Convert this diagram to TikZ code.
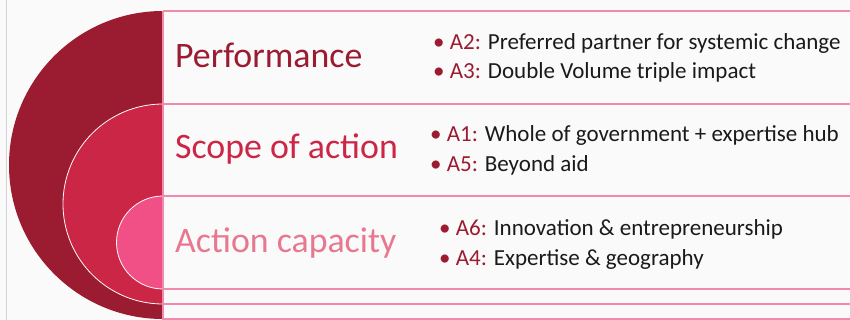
\documentclass[tikz,border=0pt]{standalone}
\usepackage{fontspec}
\setmainfont{Carlito}
\definecolor{deepred}{HTML}{9B1B30}
\definecolor{midred}{HTML}{CC2646}
\definecolor{lightred}{HTML}{F05086}
\definecolor{softpink}{HTML}{E8788F}
\definecolor{rule}{HTML}{F28AAE}
\definecolor{ink}{HTML}{1A1A1A}
\begin{document}
\begin{tikzpicture}[x=1pt,y=-1pt,
  band/.style={draw=rule,line width=1.3pt},
  ring/.style={draw=white!92!pink,line width=0.8pt},
  heading/.style={anchor=base west,inner sep=0pt,font=\fontsize{35.8}{38}\selectfont},
  item/.style={anchor=base west,inner sep=0pt,font=\fontsize{23}{25}\selectfont,text=ink},
  tag/.style={text=deepred}]
\useasboundingbox (0,0) rectangle (850,320);
\fill[white!98!black] (0,0) rectangle (850,320);
\draw[gray!35,line width=0.8pt] (6,0) -- (6,320);

% nested half discs (y axis points down, so angles run 270 -> 90 through the left)
\fill[deepred] (163,11) arc[start angle=270,end angle=90,radius=154] -- cycle;
\filldraw[fill=midred,ring] (163,104) arc[start angle=270,end angle=90,radius=100] -- cycle;
\filldraw[fill=lightred,ring] (163,196) arc[start angle=270,end angle=90,radius=46.5] -- cycle;

% band rules
\coordinate (v0) at (163,11);
\coordinate (v1) at (163,320);
\draw[band] (v0) -- (v1);
\foreach \y in {11,104,196,289,304,319}
  \draw[band] (163,\y) -- (850,\y);

% headings
\node[heading,text=deepred] (perf) at (175,68) {Performance};
\node[heading,text=midred] (scope) at (175,159) {Scope of action};
\node[heading,text=softpink] (cap) at (175,252) {Action capacity};

% bullet items
\node[item] (a2) at (433,50) {\textcolor{deepred}{•} \textcolor{deepred}{A2:} Preferred partner for systemic change};
\node[item] (a3) at (433,79) {\textcolor{deepred}{•} \textcolor{deepred}{A3:} Double Volume triple impact};
\node[item] (a1) at (430,142) {\textcolor{deepred}{•} \textcolor{deepred}{A1:} Whole of government + expertise hub};
\node[item] (a5) at (430,172) {\textcolor{deepred}{•} \textcolor{deepred}{A5:} Beyond aid};
\node[item] (a6) at (439,235) {\textcolor{deepred}{•} \textcolor{deepred}{A6:} Innovation \& entrepreneurship};
\node[item] (a4) at (439,265) {\textcolor{deepred}{•} \textcolor{deepred}{A4:} Expertise \& geography};
\end{tikzpicture}
\end{document}
